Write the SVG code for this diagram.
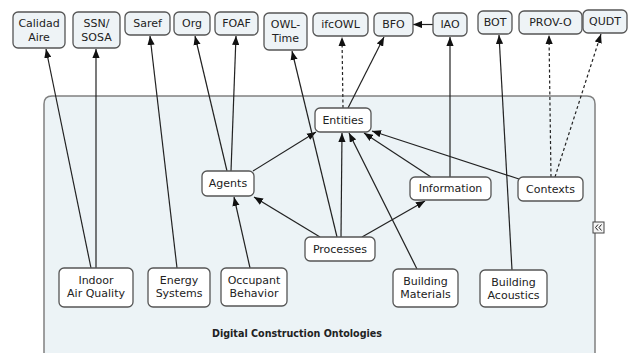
<svg xmlns="http://www.w3.org/2000/svg" width="633" height="353" viewBox="0 0 633 353">
<style>
.top rect{fill:#eef3f6;stroke:#555;stroke-width:1.3}
.in rect{fill:#ffffff;stroke:#555;stroke-width:1.3}
text{font-family:"DejaVu Sans",Verdana,sans-serif;font-size:11px;fill:#222;text-anchor:middle}
.title{font-weight:bold;font-size:9.6px}
#connectors line{stroke:#222;stroke-width:1.2;fill:none;marker-end:url(#arr)}
#connectors line.d{stroke-dasharray:3,2.5}
</style>
<defs>
<marker id="arr" viewBox="0 0 10 8" refX="10" refY="4" markerWidth="9" markerHeight="7.5" orient="auto" markerUnits="userSpaceOnUse">
<path d="M0,0 L10,4 L0,8 z" fill="#111"/>
</marker>
</defs>
<rect width="633" height="353" fill="#ffffff"/>
<g id="container">
<path d="M44,370 L44,104 Q44,96 52,96 L587,96 Q595,96 595,104 L595,370" fill="#ecf3f6" stroke="#808080" stroke-width="1.5"/>
<text class="title" x="297" y="337">Digital Construction Ontologies</text>
</g>
<g id="connectors">
<line x1="91" y1="268" x2="46" y2="49"/>
<line x1="96" y1="268" x2="96" y2="49"/>
<line x1="177" y1="268" x2="150" y2="36"/>
<line x1="250" y1="268" x2="234" y2="197"/>
<line x1="227" y1="171" x2="195" y2="36"/>
<line x1="231" y1="171" x2="236" y2="36"/>
<line x1="253" y1="171" x2="316" y2="132"/>
<line x1="320" y1="237" x2="254" y2="197"/>
<line x1="341" y1="237" x2="342" y2="133"/>
<line x1="337" y1="237" x2="292" y2="51"/>
<line x1="362" y1="237" x2="425" y2="201"/>
<line x1="417" y1="269" x2="349" y2="133"/>
<line x1="431" y1="177" x2="364" y2="133"/>
<line x1="450" y1="177" x2="450" y2="37"/>
<line x1="519" y1="179" x2="372" y2="131"/>
<line class="d" x1="551" y1="177" x2="549" y2="35"/>
<line class="d" x1="555" y1="177" x2="601" y2="34"/>
<line x1="512" y1="270" x2="499" y2="35"/>
<line class="d" x1="343" y1="108" x2="342" y2="37"/>
<line x1="348" y1="108" x2="384" y2="37"/>
<line x1="433" y1="24.5" x2="413" y2="24.5"/>
</g>
<g id="calidad-aire" class="top"><rect x="13" y="12" width="52" height="36" rx="5"/><text x="39" y="27">Calidad</text><text x="39" y="41">Aire</text></g>
<g id="ssn-sosa" class="top"><rect x="73" y="12" width="47" height="36" rx="5"/><text x="96.5" y="27">SSN/</text><text x="96.5" y="41">SOSA</text></g>
<g id="saref" class="top"><rect x="125" y="12" width="45" height="23" rx="5"/><text x="147.5" y="27">Saref</text></g>
<g id="org" class="top"><rect x="174" y="12" width="36" height="23" rx="5"/><text x="192" y="27">Org</text></g>
<g id="foaf" class="top"><rect x="215" y="12" width="43" height="23" rx="5"/><text x="236.5" y="27">FOAF</text></g>
<g id="owl-time" class="top"><rect x="264" y="13" width="43" height="37" rx="5"/><text x="285.5" y="28">OWL-</text><text x="285.5" y="42">Time</text></g>
<g id="ifcowl" class="top"><rect x="313" y="13" width="55" height="23" rx="5"/><text x="340.5" y="28">ifcOWL</text></g>
<g id="bfo" class="top"><rect x="374" y="13" width="39" height="23" rx="5"/><text x="393.5" y="28">BFO</text></g>
<g id="iao" class="top"><rect x="433" y="13" width="34" height="23" rx="5"/><text x="450" y="28">IAO</text></g>
<g id="bot" class="top"><rect x="478" y="11" width="34" height="23" rx="5"/><text x="495" y="26">BOT</text></g>
<g id="prov-o" class="top"><rect x="519" y="11" width="63" height="23" rx="5"/><text x="550.5" y="26">PROV-O</text></g>
<g id="qudt" class="top"><rect x="583" y="10" width="44" height="23" rx="5"/><text x="605" y="25">QUDT</text></g>
<g id="entities" class="in"><rect x="315" y="108" width="56" height="24" rx="5"/><text x="343" y="124">Entities</text></g>
<g id="agents" class="in"><rect x="202" y="171" width="52" height="25" rx="5"/><text x="228" y="187">Agents</text></g>
<g id="processes" class="in"><rect x="305" y="237" width="70" height="24" rx="5"/><text x="340" y="253">Processes</text></g>
<g id="information" class="in"><rect x="410" y="177" width="81" height="23" rx="5"/><text x="450.5" y="192">Information</text></g>
<g id="contexts" class="in"><rect x="518" y="177" width="65" height="24" rx="5"/><text x="550.5" y="193">Contexts</text></g>
<g id="indoor-air-quality" class="in"><rect x="59" y="268" width="74" height="39" rx="5"/><text x="96" y="284">Indoor</text><text x="96" y="297">Air Quality</text></g>
<g id="energy-systems" class="in"><rect x="148" y="268" width="62" height="39" rx="5"/><text x="179" y="284">Energy</text><text x="179" y="297">Systems</text></g>
<g id="occupant-behavior" class="in"><rect x="221" y="268" width="66" height="38" rx="5"/><text x="254" y="284">Occupant</text><text x="254" y="297">Behavior</text></g>
<g id="building-materials" class="in"><rect x="393" y="269" width="65" height="38" rx="5"/><text x="425.5" y="285">Building</text><text x="425.5" y="298">Materials</text></g>
<g id="building-acoustics" class="in"><rect x="480" y="270" width="67" height="37" rx="5"/><text x="513.5" y="286">Building</text><text x="513.5" y="299">Acoustics</text></g>
<g id="collapse-icon">
<rect x="593" y="222" width="11" height="11" fill="#f4f4f4" stroke="#444" stroke-width="1"/>
<polyline points="598,224.5 595.5,227.5 598,230.5" fill="none" stroke="#222" stroke-width="1"/>
<polyline points="601.5,224.5 599,227.5 601.5,230.5" fill="none" stroke="#222" stroke-width="1"/>
</g>
</svg>
